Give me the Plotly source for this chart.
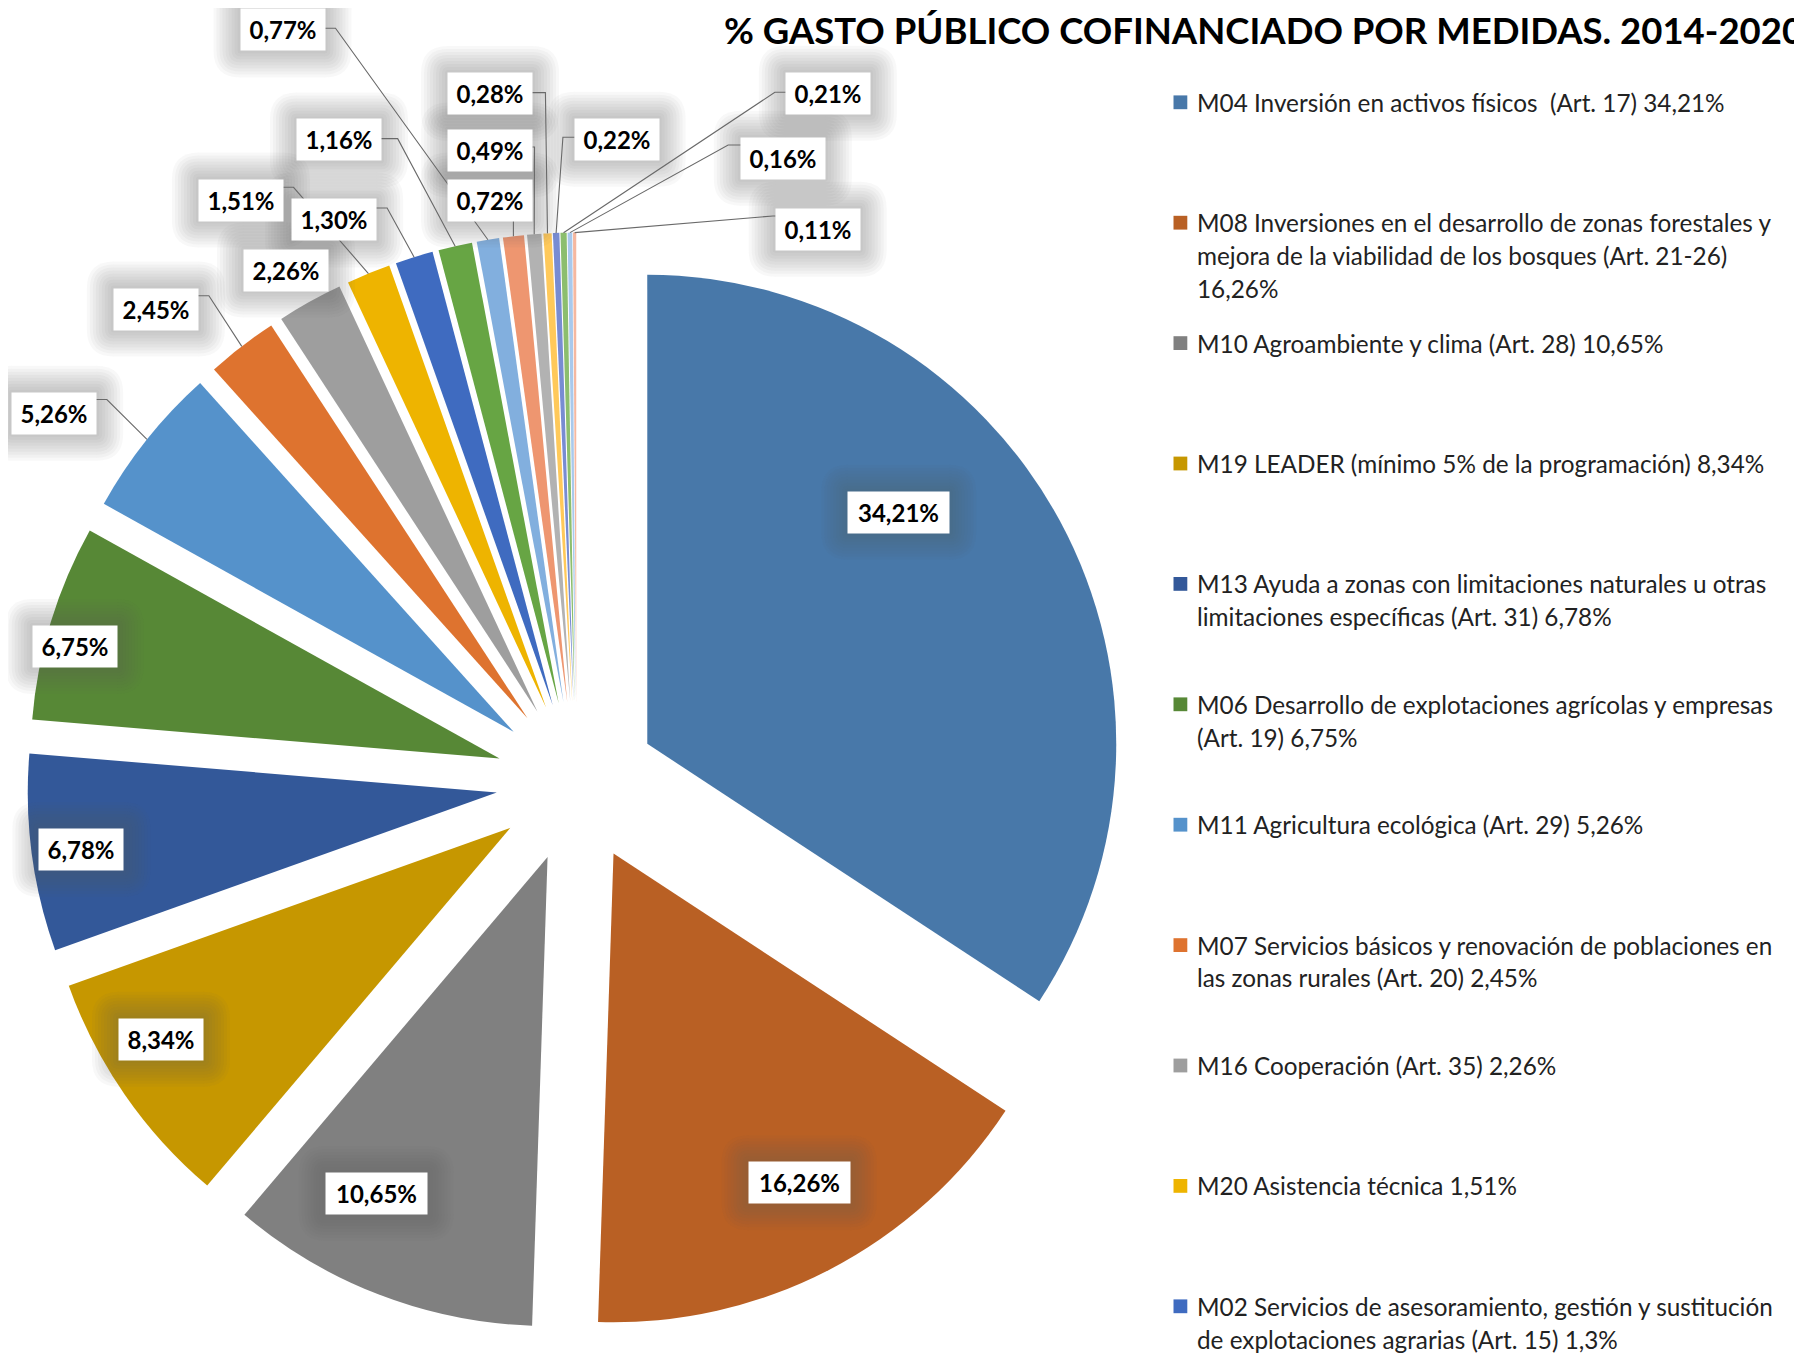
import math
import plotly.graph_objects as go

W_FIG, H_FIG = 1802, 1354
OFF = 8  # page body margin compensation (px)

# ---------------- data ----------------
title_text = "% GASTO PÚBLICO COFINANCIADO POR MEDIDAS. 2014-2020"

values = [34.21, 16.26, 10.65, 8.34, 6.78, 6.75, 5.26, 2.45, 2.26, 1.51,
          1.30, 1.16, 0.77, 0.72, 0.49, 0.28, 0.22, 0.21, 0.16, 0.11]

legend_labels = [
    "M04 Inversión en activos físicos  (Art. 17) 34,21%",
    "M08 Inversiones en el desarrollo de zonas forestales y<br>mejora de la viabilidad de los bosques (Art. 21-26)<br>16,26%",
    "M10 Agroambiente y clima (Art. 28) 10,65%",
    "M19 LEADER (mínimo 5% de la programación) 8,34%",
    "M13 Ayuda a zonas con limitaciones naturales u otras<br>limitaciones específicas (Art. 31) 6,78%",
    "M06 Desarrollo de explotaciones agrícolas y empresas<br>(Art. 19) 6,75%",
    "M11 Agricultura ecológica (Art. 29) 5,26%",
    "M07 Servicios básicos y renovación de poblaciones en<br>las zonas rurales (Art. 20) 2,45%",
    "M16 Cooperación (Art. 35) 2,26%",
    "M20 Asistencia técnica 1,51%",
    "M02 Servicios de asesoramiento, gestión y sustitución<br>de explotaciones agrarias (Art. 15) 1,3%",
]

colors = ["#4878A9", "#B96024", "#808080", "#C69700", "#335899", "#578836",
          "#5592CB", "#DE732F", "#9E9E9E", "#EEB400", "#3F6BC0", "#67A544",
          "#82AFDE", "#EE9670", "#B2B2B2", "#FFC95A", "#788CD2", "#8CBE6E",
          "#A9C9EC", "#F5B8A0"]


def pct(v):
    return ("%.2f" % v).replace(".", ",") + "%"


value_text = [pct(v) for v in values]
slice_labels = [l.split(" ")[0] for l in legend_labels] + value_text[len(legend_labels):]

# ---------------- layout / style ----------------
PULL = 0.1715
DOM_PX = (27.1, 232.6, 1125.9, 1331.4)   # pie box in page px (left, top, right, bottom)

# big labels: (radius fraction from slice apex, angle offset deg)
big_label_pos = {0: (0.729, -14.3), 1: (0.806, -2.0), 2: (0.805, 5.9), 3: (0.871, 3.5),
                 4: (0.894, -0.36), 5: (0.937, -2.15)}
# outside labels: (dx, dy from slice edge point, leader side, attach dy, stub)
out_label_pos = {
    6: (-92.8, -26.2, "r", -13.7, 10.7),
    7: (-85.9, -37.3, "r", -13.3, 11.0),
    8: (-23.7, -31.7, None, 0, 0),
    9: (-127.5, -73.5, "r", -12.7, 10.6),
    10: (-80.0, -37.2, "r", -12.0, 11.0),
    11: (-116.2, -106.2, "r", -1.3, 16.7),
    12: (-205.4, -209.8, "r", -1.7, 11.0),
    13: (-23.4, -36.2, "b", 0, 0),
    14: (-44.1, -84.2, "r", -3.0, 2.4),
    15: (-57.4, -139.9, "r", -0.8, 13.3),
    16: (60.5, -93.7, "l", -2.0, 11.7),
    17: (264.3, -139.5, "l", -1.0, 11.0),
    18: (212.9, -74.3, "l", -13.3, 12.7),
    19: (243.1, -3.3, "l", -13.3, 2.7),
}

LABEL_FONT = dict(family="Lato", size=24, color="#000000")
LEGEND_FONT = dict(family="Lato", size=24.3, color="#222222")
BOX_H = 41


def px(x):
    return (x - OFF) / W_FIG


def py(y):
    return 1 - (y - OFF) / H_FIG


def unit(theta):
    t = math.radians(theta)
    return math.sin(t), -math.cos(t)


dom_x = [px(DOM_PX[0]), px(DOM_PX[2])]
dom_y = [py(DOM_PX[3]), py(DOM_PX[1])]

# geometry replicating plotly's pie layout (margins are 0), in page px
box_w = W_FIG * (dom_x[1] - dom_x[0])
box_h = H_FIG * (dom_y[1] - dom_y[0])
R = min(box_w, box_h) / (2 + 2 * PULL)
CX = W_FIG * (dom_x[0] + dom_x[1]) / 2 + OFF
CY = H_FIG * (1 - (dom_y[0] + dom_y[1]) / 2) + OFF

total = sum(values)
mids = []
cum = 0.0
for v in values:
    mids.append((cum + v / 2) / total * 360.0)
    cum += v

fig = go.Figure()
fig.add_trace(go.Pie(
    values=values, labels=slice_labels, sort=False, direction="clockwise",
    rotation=0, pull=[PULL] * len(values),
    marker=dict(colors=colors, line=dict(width=0)),
    textinfo="none", showlegend=False, domain=dict(x=dom_x, y=dom_y),
    hovertemplate="%{label}: %{value}<extra></extra>",
))

annotations = []
glow_shapes = []
line_shapes = []


def rrect_path(x0, y0, x1, y1, r):
    pts = [("M", [(x0 + r, y0)]), ("L", [(x1 - r, y0)]), ("Q", [(x1, y0), (x1, y0 + r)]),
           ("L", [(x1, y1 - r)]), ("Q", [(x1, y1), (x1 - r, y1)]), ("L", [(x0 + r, y1)]),
           ("Q", [(x0, y1), (x0, y1 - r)]), ("L", [(x0, y0 + r)]), ("Q", [(x0, y0), (x0 + r, y0)])]
    s = ""
    for cmd, ps in pts:
        s += cmd + " ".join("%.5f,%.5f" % (px(a), py(b)) for a, b in ps) + " "
    return s + "Z"


def add_label(i, cx, cy):
    txt = value_text[i]
    ndig = sum(c.isdigit() for c in txt)
    bw = 84 + 17 * (ndig - 3)
    for k in range(1, 10):
        e = 3 * k
        glow_shapes.append(dict(type="path", xref="paper", yref="paper",
                                path=rrect_path(cx - bw / 2 - e, cy - BOX_H / 2 - e,
                                                cx + bw / 2 + e, cy + BOX_H / 2 + e, e),
                                fillcolor="rgba(90,90,90,0.045)", line=dict(width=0),
                                layer="above"))
    annotations.append(dict(x=px(cx), y=py(cy), xref="paper", yref="paper",
                            text="<b>%s</b>" % txt, showarrow=False, font=LABEL_FONT,
                            bgcolor="#FFFFFF", width=bw, height=BOX_H, borderpad=0,
                            xanchor="center", yanchor="middle", align="center"))
    return bw


for i in range(len(values)):
    ux, uy = unit(mids[i])
    ax_, ay_ = CX + PULL * R * ux, CY + PULL * R * uy   # slice apex
    if i in big_label_pos:
        rf, off = big_label_pos[i]
        vx, vy = unit(mids[i] + off)
        add_label(i, ax_ + rf * R * vx, ay_ + rf * R * vy)
    elif i in out_label_pos:
        dx, dy, side, ady, stub = out_label_pos[i]
        tx, ty = ax_ + R * ux, ay_ + R * uy      # slice outer edge
        cx, cy = tx + dx, ty + dy
        bw = add_label(i, cx, cy)
        if side is not None:
            if side == "r":
                p0 = (cx + bw / 2, cy + ady)
                p1 = (p0[0] + stub, p0[1])
            elif side == "l":
                p0 = (cx - bw / 2, cy + ady)
                p1 = (p0[0] - stub, p0[1])
            else:
                p0 = (tx, cy + BOX_H / 2)
                p1 = p0
            path = "M%.5f,%.5f L%.5f,%.5f L%.5f,%.5f" % (px(p0[0]), py(p0[1]), px(p1[0]), py(p1[1]),
                                                        px(tx), py(ty))
            line_shapes.append(dict(type="path", xref="paper", yref="paper", path=path,
                                    line=dict(color="rgb(105,105,105)", width=1.1), layer="above"))

shapes = glow_shapes + line_shapes

# ---------------- legend (custom) ----------------
LEG_X_SQ = 1173.5
LEG_SQ = 13.8
LEG_X_TXT = 1195
LEG_Y0 = 102.3
LEG_STEP = 120.4
LEG_LINE = 32.75
for i, lab in enumerate(legend_labels):
    y0 = LEG_Y0 + LEG_STEP * i
    shapes.append(dict(type="rect", xref="paper", yref="paper",
                       x0=px(LEG_X_SQ), x1=px(LEG_X_SQ + LEG_SQ),
                       y0=py(y0 - LEG_SQ / 2), y1=py(y0 + LEG_SQ / 2),
                       fillcolor=colors[i], line=dict(width=0)))
    for j, line in enumerate(lab.split("<br>")):
        annotations.append(dict(x=px(LEG_X_TXT), y=py(y0 + j * LEG_LINE), xref="paper", yref="paper",
                                text=line, showarrow=False, font=LEGEND_FONT,
                                xanchor="left", yanchor="middle", align="left"))

# title
annotations.append(dict(x=px(722), y=py(30), xref="paper", yref="paper",
                        text="<b>%s</b>" % title_text, showarrow=False,
                        font=dict(family="Lato", size=36.5, color="#000000"),
                        xanchor="left", yanchor="middle"))

fig.update_layout(
    width=W_FIG, height=H_FIG,
    margin=dict(l=0, r=0, t=0, b=0),
    paper_bgcolor="#FFFFFF", plot_bgcolor="#FFFFFF",
    shapes=shapes, annotations=annotations,
    showlegend=False,
)

fig.write_html("out.html")
